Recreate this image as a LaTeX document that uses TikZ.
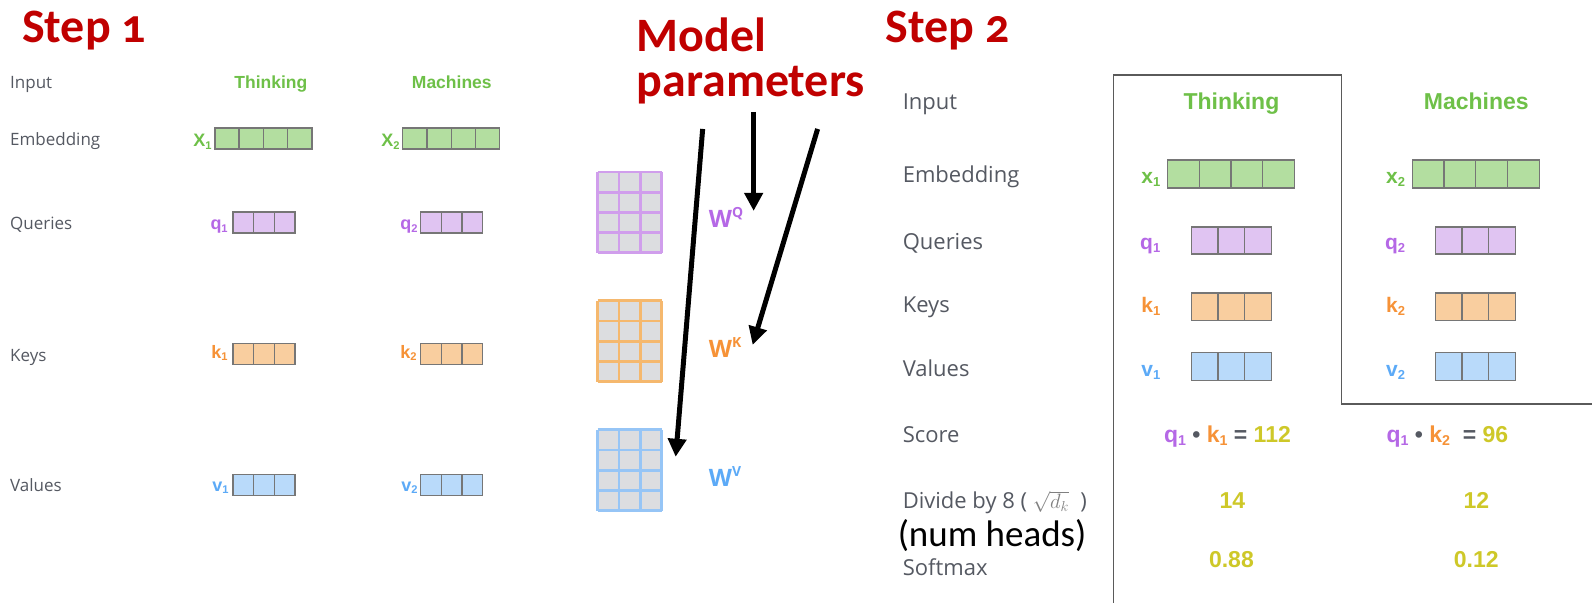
\documentclass[tikz,border=0pt]{standalone}
\usepackage{fontspec}
\setmainfont{Open Sans}
\newfontfamily\arialfont{Liberation Sans}
\newfontfamily\titlefont[Numbers=OldStyle]{Carlito}
\usetikzlibrary{arrows.meta}

\definecolor{titlered}{RGB}{192,0,0}
\definecolor{labelgray}{RGB}{85,89,98}
\definecolor{wordgreen}{RGB}{110,192,72}
\definecolor{embfill}{RGB}{179,222,160}
\definecolor{qtext}{RGB}{181,104,230}
\definecolor{qfill}{RGB}{224,196,242}
\definecolor{ktext}{RGB}{246,146,55}
\definecolor{kfill}{RGB}{249,206,159}
\definecolor{vtext}{RGB}{92,170,247}
\definecolor{vfill}{RGB}{185,218,250}
\definecolor{numyellow}{RGB}{206,200,40}
\definecolor{matgray}{RGB}{220,221,224}
\definecolor{qline}{RGB}{208,158,236}
\definecolor{kline}{RGB}{245,184,110}
\definecolor{vline}{RGB}{150,197,246}
\definecolor{cellgray}{RGB}{118,118,118}
\definecolor{panelgray}{RGB}{90,90,90}

\newcommand{\lowidx}[1]{\raisebox{-0.12em}{\scalebox{0.62}{#1}}}
\newcommand{\upidx}[1]{\raisebox{0.42em}{\scalebox{0.58}{#1}}}
% row of cells: x, y, count, cell width, height, fill
\newcommand{\cellrow}[6]{%
  \foreach \i in {1,...,#3}
    \draw[cellbox, fill=#6] ({#1+(\i-1)*#4},#2) rectangle ++(#4,#5);}
% weight matrix: x, y, line colour
\newcommand{\weightgrid}[3]{%
  \fill[matgray] (#1,#2) rectangle ++(64,81);
  \foreach \c in {0,...,3} \draw[#3, line width=2.8pt] ({#1+\c*64/3},#2) -- ++(0,81);
  \foreach \r in {0,...,4} \draw[#3, line width=2.8pt] (#1,{#2+\r*81/4}) -- ++(64,0);}

\tikzset{
  cellbox/.style={draw=cellgray, line width=1.3pt},
  steptitle/.style={font=\titlefont\bfseries\fontsize{48}{50}\selectfont, text=titlered, anchor=base west, inner sep=0},
  lbl1/.style={font=\fontsize{17}{20}\selectfont, text=labelgray, anchor=base west, inner sep=0},
  lbl2/.style={font=\fontsize{22}{26}\selectfont, text=labelgray, anchor=base west, inner sep=0},
  word1/.style={font=\arialfont\bfseries\fontsize{17.5}{20}\selectfont, text=wordgreen, anchor=base, inner sep=0},
  word2/.style={font=\arialfont\bfseries\fontsize{23}{26}\selectfont, text=wordgreen, anchor=base, inner sep=0},
  vec1/.style={font=\arialfont\bfseries\fontsize{18}{20}\selectfont, anchor=base east, inner sep=0},
  vec2/.style={font=\arialfont\bfseries\fontsize{21}{24}\selectfont, anchor=base east, inner sep=0},
  numval/.style={font=\arialfont\bfseries\fontsize{23}{26}\selectfont, text=numyellow, anchor=base, inner sep=0},
  wlab/.style={font=\bfseries\fontsize{24}{26}\selectfont, anchor=base west, inner sep=0},
  bigarrow/.style={line width=5pt, -{Triangle[length=18pt,width=18pt]}},
}

\begin{document}
\begin{tikzpicture}[x=1pt,y=-1pt]
  \fill[white] (0,0) rectangle (1593,603);

  % step 1
  \node[steptitle] (step1) at (22,43) {Step 1};
  \node[lbl1] (in1) at (10,89) {Input};
  \node[lbl1] (emb1) at (10,146) {Embedding};
  \node[lbl1] (qry1) at (10,230) {Queries};
  \node[lbl1] (key1) at (10,362) {Keys};
  \node[lbl1] (val1) at (10,492) {Values};
  \node[word1] (think1) at (271,89) {Thinking};
  \node[word1] (mach1) at (452,89) {Machines};

  \cellrow{215}{128}{4}{24.25}{21}{embfill}
  \cellrow{403}{128}{4}{24.25}{21}{embfill}
  \cellrow{233}{212}{3}{20.67}{21}{qfill}
  \cellrow{421}{212}{3}{20.67}{21}{qfill}
  \cellrow{233}{344}{3}{20.67}{21}{kfill}
  \cellrow{421}{344}{3}{20.67}{21}{kfill}
  \cellrow{233}{475}{3}{20.67}{21}{vfill}
  \cellrow{421}{475}{3}{20.67}{21}{vfill}

  \node[vec1, text=wordgreen] (xa1) at (212,147) {X\lowidx{1}};
  \node[vec1, text=wordgreen] (xa2) at (400,147) {X\lowidx{2}};
  \node[vec1, text=qtext] (qa1) at (228,230) {q\lowidx{1}};
  \node[vec1, text=qtext] (qa2) at (418,230) {q\lowidx{2}};
  \node[vec1, text=ktext] (ka1) at (228,359) {k\lowidx{1}};
  \node[vec1, text=ktext] (ka2) at (417,359) {k\lowidx{2}};
  \node[vec1, text=vtext] (va1) at (229,492) {v\lowidx{1}};
  \node[vec1, text=vtext] (va2) at (418,492) {v\lowidx{2}};

  % model parameters
  \node[steptitle] (model) at (637,52) {Model};
  \node[steptitle] (params) at (637,97) {parameters};

  \weightgrid{598}{172}{qline}
  \weightgrid{598}{301}{kline}
  \weightgrid{598}{430}{vline}

  \node[wlab, text=qtext] (wq) at (709,228) {W\upidx{Q}};
  \node[wlab, text=ktext] (wk) at (709,358) {W\upidx{K}};
  \node[wlab, text=vtext] (wv) at (709,487) {W\upidx{V}};

  \coordinate (qtail) at (754,112);
  \coordinate (qtip) at (754,211);
  \coordinate (ktail) at (818,129);
  \coordinate (ktip) at (753,345);
  \coordinate (vtail) at (703,129);
  \coordinate (vtip) at (676,457);
  \draw[bigarrow] (qtail) -- (qtip);
  \draw[bigarrow] (ktail) -- (ktip);
  \draw[bigarrow] (vtail) -- (vtip);

  % step 2
  \node[steptitle] (step2) at (886,43) {Step 2};
  \draw[panelgray, line width=1.5pt] (1114,603) -- (1114,75) -- (1342,75) -- (1342,404) -- (1593,404);

  \node[lbl2] (in2) at (903,110) {Input};
  \node[lbl2] (emb2) at (903,183) {Embedding};
  \node[lbl2] (qry2) at (903,250) {Queries};
  \node[lbl2] (key2) at (903,313) {Keys};
  \node[lbl2] (val2) at (903,377) {Values};
  \node[lbl2] (score) at (903,443) {Score};
  \node[lbl2] (divide) at (903,509) {Divide by 8 ( {\color{gray}$\sqrt{d_k}$}\ \ )};
  \node[font=\titlefont\fontsize{37}{40}\selectfont, anchor=base west, inner sep=0] (heads) at (898,547) {(num heads)};
  \node[lbl2] (softmax) at (903,576) {Softmax};

  \node[word2] (think2) at (1232,110) {Thinking};
  \node[word2] (mach2) at (1477,110) {Machines};

  \cellrow{1168}{160}{4}{31.75}{28}{embfill}
  \cellrow{1413}{160}{4}{31.75}{28}{embfill}
  \cellrow{1192}{227}{3}{26.67}{27}{qfill}
  \cellrow{1436}{227}{3}{26.67}{27}{qfill}
  \cellrow{1192}{293}{3}{26.67}{28}{kfill}
  \cellrow{1436}{293}{3}{26.67}{28}{kfill}
  \cellrow{1192}{353}{3}{26.67}{28}{vfill}
  \cellrow{1436}{353}{3}{26.67}{28}{vfill}

  \node[vec2, text=wordgreen] (xb1) at (1161,184) {x\lowidx{1}};
  \node[vec2, text=wordgreen] (xb2) at (1406,184) {x\lowidx{2}};
  \node[vec2, text=qtext] (qb1) at (1161,250) {q\lowidx{1}};
  \node[vec2, text=qtext] (qb2) at (1406,250) {q\lowidx{2}};
  \node[vec2, text=ktext] (kb1) at (1161,313) {k\lowidx{1}};
  \node[vec2, text=ktext] (kb2) at (1406,313) {k\lowidx{2}};
  \node[vec2, text=vtext] (vb1) at (1161,377) {v\lowidx{1}};
  \node[vec2, text=vtext] (vb2) at (1406,377) {v\lowidx{2}};

  \node[numval] (sc1) at (1228,443) {{\color{qtext}q\lowidx{1}} {\color{labelgray}\textbullet} {\color{ktext}k\lowidx{1}} {\color{labelgray}=} 112};
  \node[numval] (sc2) at (1448,443) {{\color{qtext}q\lowidx{1}} {\color{labelgray}\textbullet} {\color{ktext}k\lowidx{2}}\ \ {\color{labelgray}=} 96};
  \node[numval] (dv1) at (1233,509) {14};
  \node[numval] (dv2) at (1477,509) {12};
  \node[numval] (sm1) at (1232,568) {0.88};
  \node[numval] (sm2) at (1477,568) {0.12};
\end{tikzpicture}
\end{document}
